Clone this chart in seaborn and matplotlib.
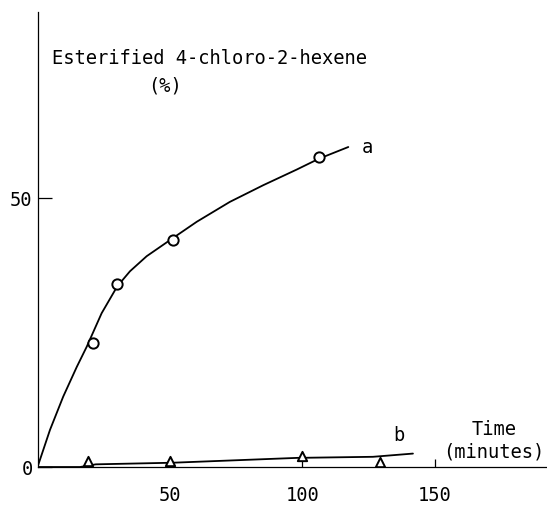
import numpy as np
import pandas as pd
import matplotlib
matplotlib.use("Agg")
import matplotlib.pyplot as plt
import seaborn as sns

# measured points (time in minutes, esterified %)
time_a = [20.8, 30.1, 51.2, 106.1]
pct_a = [23.0, 34.0, 42.3, 57.6]
time_b = [19.2, 50, 100, 129.2]
pct_b = [1.1, 1.1, 2.1, 1.0]

# hand-drawn fitted curves
curve_a_t = [0, 4.7, 9.7, 14.8, 18.6, 24.2, 30.1, 34.9, 41.2, 51.2, 60.1, 72.6, 85.2, 97.8, 106.1, 117.3]
curve_a_y = [0, 6.9, 13.1, 18.6, 22.4, 28.6, 33.6, 36.4, 39.2, 42.6, 45.6, 49.3, 52.4, 55.3, 57.3, 59.5]
curve_b_t = [0, 16, 22, 51, 98, 126.6, 141.7]
curve_b_y = [0, 0.0, 0.5, 0.8, 1.7, 1.9, 2.5]

xticks = [50, 100, 150]
yticks = [0, 50]

sns.set_style("ticks")
plt.rcParams["font.family"] = ["DejaVu Sans Mono"]
plt.rcParams["text.color"] = "black"

fig = plt.figure(figsize=(5.47, 5.05), dpi=100)
ax = fig.add_axes([0.0686, 0.0752, 0.9314, 0.901])

df_ca = pd.DataFrame({"t": curve_a_t, "y": curve_a_y})
df_cb = pd.DataFrame({"t": curve_b_t, "y": curve_b_y})
sns.lineplot(data=df_ca, x="t", y="y", color="black", linewidth=1.3, sort=False, ax=ax)
sns.lineplot(data=df_cb, x="t", y="y", color="black", linewidth=1.3, sort=False, ax=ax)

df_a = pd.DataFrame({"t": time_a, "y": pct_a})
df_b = pd.DataFrame({"t": time_b, "y": pct_b})
sns.scatterplot(data=df_a, x="t", y="y", marker="o", s=55, facecolor="white",
                edgecolor="black", linewidth=1.4, zorder=3, ax=ax)
sns.scatterplot(data=df_b, x="t", y="y", marker="^", s=45, facecolor="white",
                edgecolor="black", linewidth=1.4, zorder=3, ax=ax)

ax.set_xlim(0, 192.3)
ax.set_ylim(0, 84.6)
sns.despine(ax=ax)
for s in ["left", "bottom"]:
    ax.spines[s].set_color("black")
    ax.spines[s].set_linewidth(0.9)

ax.set_xticks(xticks)
ax.set_xticklabels([str(v) for v in xticks])
ax.set_yticks(yticks)
ax.set_yticklabels([str(v) for v in yticks])
ax.tick_params(axis="x", direction="in", length=6, width=0.9, pad=13.5, labelsize=13.5, colors="black")
ax.tick_params(axis="y", direction="in", length=10, width=0.9, pad=3.5, labelsize=13.5, colors="black")
ax.set_xlabel("")
ax.set_ylabel("")

ax.text(5.3, 76.0, "Esterified 4-chloro-2-hexene", fontsize=13.5, ha="left", va="center")
ax.text(48.0, 70.8, "(%)", fontsize=13.5, ha="center", va="center")
ax.text(124.6, 59.4, "a", fontsize=13.5, ha="center", va="center")
ax.text(136.5, 5.9, "b", fontsize=13.5, ha="center", va="center")
ax.text(172.2, 6.9, "Time", fontsize=13.5, ha="center", va="center")
ax.text(172.2, 2.8, "(minutes)", fontsize=13.5, ha="center", va="center")

fig.savefig("out.png", dpi=100)
